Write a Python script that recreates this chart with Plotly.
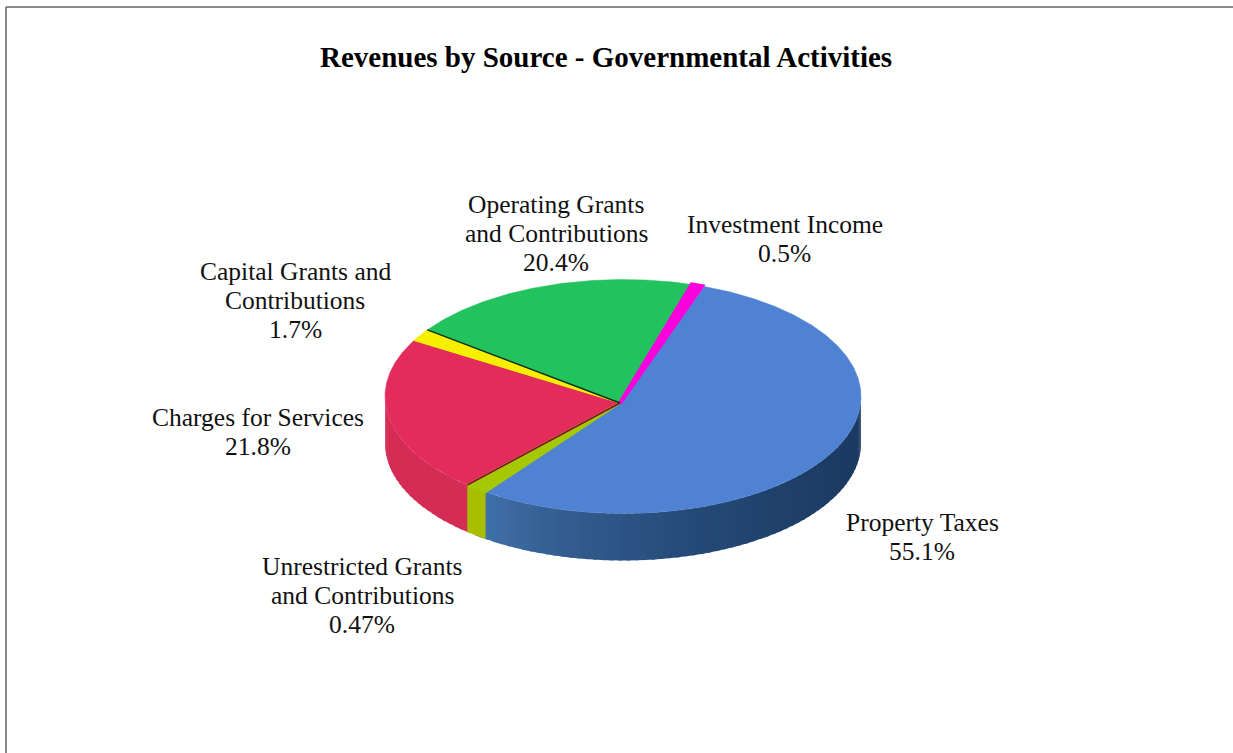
import numpy as np
import plotly.graph_objects as go

categories = ["Property Taxes", "Unrestricted Grants and Contributions", "Charges for Services",
              "Capital Grants and Contributions", "Operating Grants and Contributions", "Investment Income"]
values = [55.1, 0.47, 21.8, 1.7, 20.4, 0.5]
value_labels = ["55.1%", "0.47%", "21.8%", "1.7%", "20.4%", "0.5%"]
label_lines = [["Property Taxes"], ["Unrestricted Grants", "and Contributions"], ["Charges for Services"],
               ["Capital Grants and", "Contributions"], ["Operating Grants", "and Contributions"], ["Investment Income"]]
title_text = "Revenues by Source - Governmental Activities"

# styling / layout (pixel-unit axes)
W, H = 1233, 753
CX, CY, RX, RY, DEPTH = 623, 396.5, 238, 117, 47
APEX = (620, 403)
START = 20.0
MIN_SWEEP = [0, 5.6, 0, 0, 0, 2.6]
SWEEP_SHIFT = [0, -1.2, 0, 0, 0, -1.0]
EDGE_WIDTH = [0.5, 2.0, 0.5, 1.0, 0.5, 4.0]
top_cols = ["#4f82d2", "#a6c800", "#e32c5c", "#f6f000", "#22c35e", "#fb00dc"]
side_left = ["#3f6fa8", "#a8bf00", "#d42c55", "#d0cc00", "#1a9c4a", "#c000a8"]
side_right = ["#1b3a62", "#a8bf00", "#bf2850", "#d0cc00", "#1a9c4a", "#c000a8"]
LABEL_X = [922, 362, 258, 295, 556, 784.5]
LABEL_BASE = [530, 574, 425, 279, 212, 232]
LINE_PITCH = 29.3
FONT_SIZE = 25.5
BASE_TO_MID = 8

def hex2rgb(h):
    return np.array([int(h[i:i+2], 16) for i in (1, 3, 5)], float)

def rim(a):
    a = np.radians(a)
    return CX + RX*np.sin(a), CY - RY*np.cos(a)

total = sum(values)
edges = START + np.concatenate([[0], np.cumsum(values)]) * 360.0 / total
spans = []
for i in range(len(values)):
    a0, a1 = edges[i], edges[i+1]
    if a1 - a0 < MIN_SWEEP[i]:
        m = (a0 + a1) / 2
        a0, a1 = m - MIN_SWEEP[i]/2, m + MIN_SWEEP[i]/2
    spans.append((a0 + SWEEP_SHIFT[i], a1 + SWEEP_SHIFT[i]))

fig = go.Figure()

# wall of the pie, for the arcs facing the viewer (90..270 deg)
order = sorted(range(len(values)), key=lambda k: MIN_SWEEP[k] > 0)
for i in order:
    a0, a1 = spans[i]
    lo, hi = max(a0, 90), min(a1, 270)
    if hi <= lo:
        continue
    n = max(1, int((hi - lo) / 2))
    grid = np.linspace(lo, hi, n + 1)
    for j in range(n):
        arc = np.linspace(grid[j], min(grid[j+1] + 0.8, hi), 4)
        x, y = rim(arc)
        s = float(np.clip(((grid[j] + grid[j+1]) / 2 - 90) / 125, 0, 1)) ** 2.2
        c = hex2rgb(side_right[i]) * (1 - s) + hex2rgb(side_left[i]) * s
        col = f"rgb({c[0]:.0f},{c[1]:.0f},{c[2]:.0f})"
        fig.add_trace(go.Scatter(
            x=np.r_[x, x[::-1]], y=np.r_[y, y[::-1] + DEPTH], mode="lines", fill="toself",
            fillcolor=col, line=dict(width=0), hoverinfo="skip", showlegend=False))

# top faces
for i in order:
    a0, a1 = spans[i]
    arc = np.linspace(a0, a1, max(4, int(a1 - a0) * 2))
    x, y = rim(arc)
    fig.add_trace(go.Scatter(
        x=np.r_[APEX[0], x, APEX[0]], y=np.r_[APEX[1], y, APEX[1]], mode="lines", fill="toself",
        fillcolor=top_cols[i], line=dict(width=EDGE_WIDTH[i], color=top_cols[i]),
        name=categories[i], text=f"{categories[i]}: {value_labels[i]}", hoverinfo="text", showlegend=False))

# dark seams: capital/operating and charges/unrestricted boundaries
for a, col in [(spans[3][1], "#123018"), (spans[1][1], "#7a1030")]:
    x, y = rim(a)
    fig.add_trace(go.Scatter(x=[APEX[0], float(x)], y=[APEX[1], float(y)], mode="lines",
                             line=dict(color=col, width=1.5), hoverinfo="skip", showlegend=False))

for px, base, lines, val in zip(LABEL_X, LABEL_BASE, label_lines, value_labels):
    for k, t in enumerate(lines + [val]):
        fig.add_annotation(x=px, y=base + k * LINE_PITCH - BASE_TO_MID, text=t, showarrow=False,
                           xanchor="center", yanchor="middle",
                           font=dict(family="Liberation Serif", size=FONT_SIZE, color="#111111"))

fig.add_annotation(x=605.5, y=57, text=f"<b>{title_text}</b>", showarrow=False, xanchor="center", yanchor="middle",
                   font=dict(family="Liberation Serif", size=29, color="black"))

fig.add_shape(type="line", x0=6, x1=W, y0=7, y1=7, line=dict(color="#666666", width=1.5))
fig.add_shape(type="line", x0=6, x1=6, y0=7, y1=H, line=dict(color="#666666", width=1.5))

fig.update_layout(
    width=W, height=H, margin=dict(l=0, r=0, t=0, b=0), paper_bgcolor="white", plot_bgcolor="white",
    xaxis=dict(range=[0, W], visible=False, fixedrange=True),
    yaxis=dict(range=[H, 0], visible=False, fixedrange=True),
    showlegend=False)
fig.write_html("out.html", config={"displayModeBar": False},
               post_script="document.body.style.margin='0';document.body.style.overflow='hidden';")
